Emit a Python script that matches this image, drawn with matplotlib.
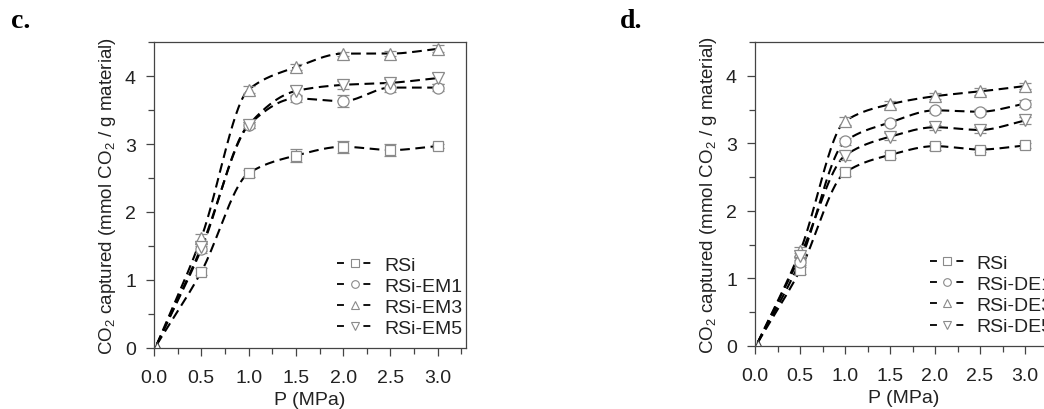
import numpy as np
import matplotlib
matplotlib.use("Agg")
import matplotlib.pyplot as plt
from matplotlib.lines import Line2D

plt.rcParams['font.family'] = ['Liberation Sans', 'DejaVu Sans']
plt.rcParams['mathtext.default'] = 'regular'
plt.rcParams['lines.scale_dashes'] = False

# pressure (MPa)
P = [0.03, 0.5, 1.0, 1.5, 2.0, 2.5, 3.0]

# panel c: CO2 captured (mmol CO2 / g material)
c_rsi = [0.05, 1.12, 2.57, 2.83, 2.96, 2.91, 2.97]
c_em1 = [0.05, 1.45, 3.28, 3.67, 3.63, 3.83, 3.83]
c_em3 = [0.05, 1.62, 3.80, 4.13, 4.33, 4.33, 4.40]
c_em5 = [0.05, 1.48, 3.28, 3.78, 3.87, 3.90, 3.97]
c_rsi_err = [0.0, 0.05, 0.05, 0.09, 0.09, 0.09, 0.03]
c_em1_err = [0.0, 0.05, 0.04, 0.05, 0.09, 0.07, 0.05]
c_em3_err = [0.0, 0.05, 0.05, 0.04, 0.03, 0.04, 0.05]
c_em5_err = [0.0, 0.05, 0.04, 0.07, 0.06, 0.06, 0.08]

# panel d
d_rsi = [0.05, 1.12, 2.57, 2.83, 2.96, 2.91, 2.97]
d_de1 = [0.05, 1.25, 3.03, 3.31, 3.49, 3.47, 3.59]
d_de3 = [0.05, 1.40, 3.33, 3.58, 3.70, 3.77, 3.85]
d_de5 = [0.05, 1.33, 2.82, 3.10, 3.24, 3.20, 3.34]
d_rsi_err = [0.0, 0.05, 0.05, 0.04, 0.05, 0.04, 0.04]
d_de1_err = [0.0, 0.05, 0.05, 0.04, 0.04, 0.04, 0.05]
d_de3_err = [0.0, 0.06, 0.06, 0.05, 0.04, 0.05, 0.05]
d_de5_err = [0.0, 0.05, 0.06, 0.05, 0.04, 0.05, 0.05]

c_labels = ["RSi", "RSi-EM1", "RSi-EM3", "RSi-EM5"]
d_labels = ["RSi", "RSi-DE1", "RSi-DE3", "RSi-DE5"]
markers = ["s", "o", "^", "v"]

GREY = "#8a8a8a"
TXT = "#222222"


def pchip(x, y, xs):
    # monotone cubic curve through the points (smooth connecting line)
    x = np.asarray(x, float)
    y = np.asarray(y, float)
    h = np.diff(x)
    d = np.diff(y) / h
    m = np.zeros_like(y)
    m[0], m[-1] = d[0], d[-1]
    for k in range(1, len(x) - 1):
        if d[k - 1] * d[k] > 0:
            w1 = 2 * h[k] + h[k - 1]
            w2 = h[k] + 2 * h[k - 1]
            m[k] = (w1 + w2) / (w1 / d[k - 1] + w2 / d[k])
    idx = np.clip(np.searchsorted(x, xs) - 1, 0, len(x) - 2)
    t = (xs - x[idx]) / h[idx]
    h00 = 2 * t**3 - 3 * t**2 + 1
    h10 = t**3 - 2 * t**2 + t
    h01 = -2 * t**3 + 3 * t**2
    h11 = t**3 - t**2
    return h00 * y[idx] + h10 * h[idx] * m[idx] + h01 * y[idx + 1] + h11 * h[idx] * m[idx + 1]


def draw_panel(ax, series, errs, labels, leg_anchor):
    xs = np.linspace(P[0], P[-1], 300)
    for ys, er, mk in zip(series, errs, markers):
        ax.plot(xs, pchip(P, ys, xs), color='black', lw=1.5, dashes=(7, 4), zorder=2)
        ax.errorbar(P[1:], ys[1:], yerr=er[1:], fmt='none', ecolor=GREY,
                    elinewidth=0.9, capsize=4, capthick=0.9, zorder=3)
        ax.plot(P[1:], ys[1:], mk, ms=8 if mk != 's' else 7, mfc='white', mec=GREY,
                mew=0.9, zorder=4)
    ax.plot([P[0]], [series[0][0]], marker='^', ms=4, mfc='white', mec='#444', mew=0.8,
            zorder=4)

    ax.set_xlim(0, 3.3)
    ax.set_ylim(0, 4.5)
    ax.set_xticks(np.arange(0, 3.01, 0.5))
    ax.set_xticks(np.arange(0.25, 3.3, 0.5), minor=True)
    ax.set_yticks([0, 1, 2, 3, 4])
    ax.set_yticks([0.5, 1.5, 2.5, 3.5, 4.5], minor=True)
    ax.set_xticklabels([f"{v:.1f}" for v in np.arange(0, 3.01, 0.5)])
    ax.tick_params(which='major', direction='out', length=6, width=0.9, colors='#444',
                   labelsize=14, labelcolor=TXT)
    ax.tick_params(which='minor', direction='out', length=4, width=0.9, colors='#444')
    ax.tick_params(axis='x', which='major', pad=9)
    ax.tick_params(axis='y', which='major', pad=7)
    for s in ax.spines.values():
        s.set_color('#444')
        s.set_linewidth(0.9)
    ax.set_xlabel("P (MPa)", fontsize=14, color=TXT, labelpad=4)
    ax.set_ylabel("CO$_2$ captured (mmol CO$_2$ / g material)", fontsize=13.5, color=TXT,
                  labelpad=5)

    handles = [Line2D([], [], color='black', lw=1.3, dashes=(5, 14), marker=mk, ms=5.5,
                      mfc='white', mec=GREY, mew=0.8) for mk in markers]
    ax.legend(handles, labels, loc='lower left', bbox_to_anchor=leg_anchor, frameon=False,
              fontsize=14, handlelength=1.8, handletextpad=0.6, labelspacing=0.18,
              borderpad=0, borderaxespad=0, labelcolor=TXT)


fig = plt.figure(figsize=(10.44, 4.10), dpi=100)
ax_c = fig.add_axes([0.1475, 0.149, 0.299, 0.746])
ax_d = fig.add_axes([0.7232, 0.1537, 0.2845, 0.741])

draw_panel(ax_c, [c_rsi, c_em1, c_em3, c_em5],
           [c_rsi_err, c_em1_err, c_em3_err, c_em5_err], c_labels, (0.587, 0.035))
draw_panel(ax_d, [d_rsi, d_de1, d_de3, d_de5],
           [d_rsi_err, d_de1_err, d_de3_err, d_de5_err], d_labels, (0.589, 0.035))

fig.text(0.011, 0.932, "c.", fontsize=20, fontweight='bold', family='Liberation Serif')
fig.text(0.594, 0.932, "d.", fontsize=20, fontweight='bold', family='Liberation Serif')

fig.savefig("out.png", dpi=100)
